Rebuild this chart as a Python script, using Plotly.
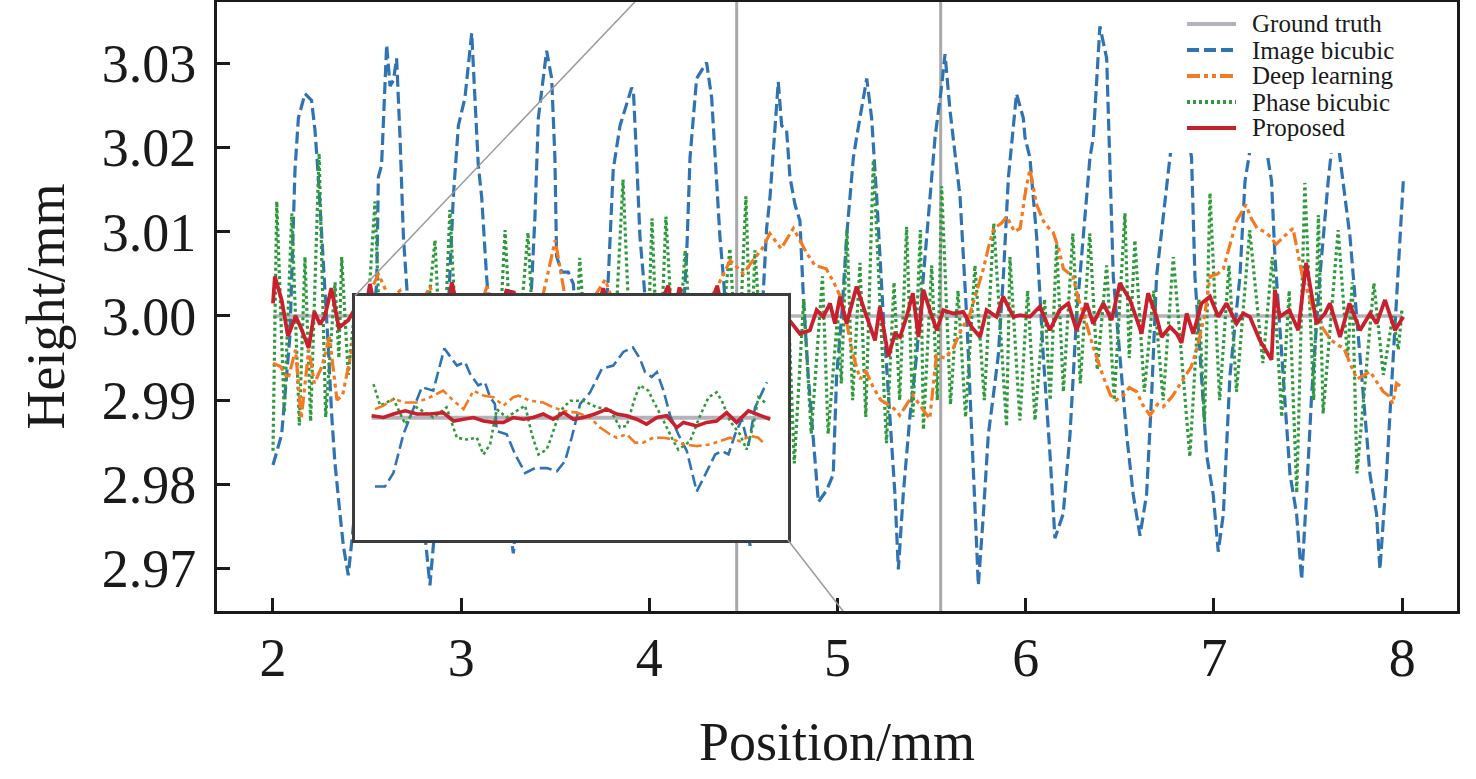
"""Height profile comparison with zoomed inset (plotly recreation)."""

import plotly.graph_objects as go

# ---- main panel data (Position/mm, Height/mm) ----
truth_x = [2.0, 8.0]
truth_y = [3.0, 3.0]

blue_x = [
    2.000, 2.046, 2.090, 2.108, 2.117, 2.135, 2.170, 2.205, 2.223, 2.241, 2.267, 2.294, 2.312, 2.329,
    2.356, 2.374, 2.400, 2.450, 2.500, 2.551, 2.560, 2.577, 2.604, 2.622, 2.640, 2.657, 2.675, 2.693,
    2.710, 2.750, 2.790, 2.834, 2.880, 2.920, 2.958, 2.985, 3.020, 3.056, 3.073, 3.091, 3.109, 3.135,
    3.180, 3.230, 3.277, 3.320, 3.360, 3.392, 3.410, 3.454, 3.481, 3.498, 3.507, 3.534, 3.569, 3.596,
    3.640, 3.700, 3.740, 3.782, 3.808, 3.844, 3.906, 3.915, 3.932, 3.950, 3.968, 4.020, 4.080, 4.140,
    4.198, 4.216, 4.251, 4.304, 4.331, 4.357, 4.375, 4.393, 4.440, 4.500, 4.535, 4.580, 4.623, 4.641,
    4.676, 4.685, 4.703, 4.729, 4.747, 4.774, 4.800, 4.818, 4.844, 4.871, 4.898, 4.942, 4.977, 4.995,
    5.022, 5.048, 5.084, 5.101, 5.155, 5.181, 5.208, 5.243, 5.279, 5.305, 5.323, 5.349, 5.385, 5.420,
    5.456, 5.491, 5.518, 5.553, 5.571, 5.597, 5.624, 5.651, 5.686, 5.713, 5.730, 5.748, 5.775, 5.801,
    5.828, 5.854, 5.881, 5.908, 5.951, 5.987, 5.996, 6.022, 6.058, 6.093, 6.129, 6.155, 6.199, 6.235,
    6.270, 6.314, 6.341, 6.359, 6.394, 6.430, 6.447, 6.465, 6.500, 6.536, 6.571, 6.607, 6.642, 6.669,
    6.695, 6.731, 6.766, 6.820, 6.881, 6.899, 6.926, 6.961, 6.996, 7.023, 7.050, 7.085, 7.138, 7.165,
    7.236, 7.306, 7.324, 7.368, 7.404, 7.439, 7.466, 7.492, 7.519, 7.563, 7.607, 7.643, 7.687, 7.723,
    7.758, 7.793, 7.829, 7.864, 7.882, 7.917, 7.953, 7.971, 8.006,
]
blue_y = [
    2.9823, 2.9859, 2.9976, 3.0094, 3.0174, 3.0235, 3.0264, 3.0256, 3.0221, 3.0165, 3.0071, 2.9962, 2.9882, 2.9826,
    2.9765, 2.9727, 2.9692, 2.9800, 2.9920, 3.0038, 3.0165, 3.0179, 3.0322, 3.0273, 3.0280, 3.0306, 3.0212, 3.0094,
    3.0038, 2.9900, 2.9780, 2.9680, 2.9800, 2.9950, 3.0141, 3.0226, 3.0259, 3.0336, 3.0259, 3.0179, 3.0141, 3.0047,
    2.9920, 2.9800, 2.9718, 2.9820, 2.9970, 3.0118, 3.0235, 3.0315, 3.0282, 3.0188, 3.0071, 3.0052, 3.0052, 3.0038,
    2.9900, 2.9760, 2.9900, 3.0047, 3.0174, 3.0226, 3.0271, 3.0268, 3.0188, 3.0094, 3.0047, 2.9900, 2.9770, 2.9850,
    3.0071, 3.0188, 3.0282, 3.0301, 3.0259, 3.0165, 3.0094, 3.0047, 2.9900, 2.9780, 2.9727, 2.9920, 3.0104, 3.0141,
    3.0259, 3.0278, 3.0226, 3.0221, 3.0165, 3.0132, 3.0113, 3.0024, 2.9929, 2.9859, 2.9779, 2.9793, 2.9812, 2.9929,
    3.0000, 3.0094, 3.0188, 3.0212, 3.0282, 3.0235, 3.0141, 3.0000, 2.9882, 2.9788, 2.9699, 2.9788, 2.9882, 2.9953,
    3.0047, 3.0141, 3.0212, 3.0273, 3.0311, 3.0245, 3.0193, 3.0141, 3.0000, 2.9859, 2.9765, 2.9680, 2.9765, 2.9859,
    2.9906, 2.9953, 3.0047, 3.0165, 3.0264, 3.0235, 3.0212, 3.0188, 3.0094, 2.9953, 2.9835, 2.9736, 2.9765, 2.9859,
    3.0000, 3.0118, 3.0188, 3.0212, 3.0344, 3.0306, 3.0188, 3.0047, 2.9953, 2.9859, 2.9788, 2.9739, 2.9788, 2.9906,
    3.0047, 3.0118, 3.0188, 3.0282, 3.0188, 3.0047, 2.9953, 2.9835, 2.9788, 2.9720, 2.9765, 2.9929, 3.0047, 3.0160,
    3.0259, 3.0160, 3.0071, 2.9929, 2.9812, 2.9765, 2.9687, 2.9788, 2.9906, 3.0047, 3.0160, 3.0235, 3.0160, 3.0094,
    3.0000, 2.9906, 2.9812, 2.9765, 2.9699, 2.9812, 2.9953, 3.0024, 3.0160,
]

orange_x = [
    2.00, 2.04, 2.08, 2.12, 2.15, 2.19, 2.22, 2.26, 2.30, 2.34, 2.37, 2.41, 2.45, 2.50, 2.56, 2.62,
    2.675, 2.73, 2.78, 2.834, 2.89, 2.95, 3.00, 3.05, 3.10, 3.137, 3.20, 3.28, 3.35, 3.42, 3.50, 3.55,
    3.62, 3.70, 3.765, 3.82, 3.90, 3.98, 4.05, 4.12, 4.20, 4.28, 4.35, 4.43, 4.50, 4.55, 4.60, 4.64,
    4.70, 4.765, 4.80, 4.835, 4.88, 4.94, 4.98, 5.013, 5.05, 5.083, 5.12, 5.15, 5.19, 5.23, 5.26, 5.30,
    5.33, 5.37, 5.40, 5.45, 5.49, 5.525, 5.57, 5.615, 5.66, 5.70, 5.74, 5.775, 5.80, 5.83, 5.87, 5.90,
    5.94, 5.97, 6.00, 6.022, 6.058, 6.093, 6.12, 6.146, 6.175, 6.20, 6.25, 6.28, 6.31, 6.36, 6.41, 6.45,
    6.48, 6.52, 6.55, 6.59, 6.62, 6.66, 6.70, 6.73, 6.78, 6.84, 6.88, 6.91, 6.95, 6.98, 7.02, 7.05,
    7.09, 7.12, 7.17, 7.20, 7.23, 7.27, 7.30, 7.33, 7.37, 7.42, 7.45, 7.47, 7.51, 7.54, 7.58, 7.62,
    7.66, 7.69, 7.73, 7.76, 7.80, 7.83, 7.87, 7.90, 7.93, 7.95, 7.97, 8.00,
]
orange_y = [
    2.9944, 2.9940, 2.9925, 2.9960, 2.9878, 2.9960, 2.9920, 2.9940, 2.9975, 2.9900, 2.9906, 2.9950, 3.0000, 3.0020, 3.0050, 3.0020,
    3.0030, 3.0000, 3.0010, 3.0035, 3.0000, 3.0020, 3.0000, 2.9990, 3.0010, 3.0035, 3.0000, 3.0010, 3.0000, 3.0010, 3.0090, 3.0025,
    3.0000, 3.0020, 3.0043, 3.0010, 3.0000, 3.0010, 3.0000, 3.0015, 3.0005, 3.0010, 3.0030, 3.0066, 3.0050, 3.0066, 3.0080, 3.0098,
    3.0080, 3.0104, 3.0090, 3.0075, 3.0060, 3.0056, 3.0040, 3.0024, 2.9990, 2.9953, 2.9925, 2.9935, 2.9915, 2.9900, 2.9896, 2.9890,
    2.9882, 2.9895, 2.9906, 2.9890, 2.9878, 2.9953, 2.9950, 2.9962, 2.9985, 3.0000, 3.0030, 3.0056, 3.0080, 3.0104, 3.0110, 3.0118,
    3.0100, 3.0104, 3.0150, 3.0174, 3.0132, 3.0113, 3.0105, 3.0099, 3.0080, 3.0056, 3.0047, 3.0020, 3.0000, 2.9962, 2.9929, 2.9906,
    2.9900, 2.9906, 2.9915, 2.9910, 2.9895, 2.9882, 2.9895, 2.9892, 2.9905, 2.9925, 2.9940, 2.9962, 3.0000, 3.0047, 3.0050, 3.0056,
    3.0090, 3.0113, 3.0132, 3.0115, 3.0104, 3.0100, 3.0094, 3.0085, 3.0094, 3.0104, 3.0070, 3.0047, 3.0020, 3.0000, 2.9985, 2.9972,
    2.9965, 2.9962, 2.9940, 2.9925, 2.9930, 2.9934, 2.9920, 2.9910, 2.9905, 2.9896, 2.9920, 2.9915,
]

green_x = [
    2.000, 2.020, 2.060, 2.100, 2.140, 2.170, 2.200, 2.245, 2.280, 2.330, 2.350, 2.365, 2.400, 2.440,
    2.480, 2.542, 2.580, 2.630, 2.680, 2.730, 2.780, 2.861, 2.900, 2.940, 2.990, 3.040, 3.090, 3.140,
    3.190, 3.233, 3.280, 3.355, 3.400, 3.450, 3.500, 3.560, 3.600, 3.630, 3.680, 3.740, 3.800, 3.860,
    3.910, 3.960, 3.990, 4.014, 4.050, 4.088, 4.140, 4.190, 4.240, 4.300, 4.350, 4.428, 4.470, 4.513,
    4.540, 4.561, 4.610, 4.660, 4.700, 4.740, 4.770, 4.820, 4.860, 4.920, 4.950, 5.000, 5.020, 5.050,
    5.080, 5.119, 5.150, 5.190, 5.260, 5.300, 5.330, 5.367, 5.400, 5.440, 5.456, 5.500, 5.530, 5.553,
    5.600, 5.640, 5.680, 5.730, 5.780, 5.830, 5.898, 5.916, 5.969, 6.010, 6.049, 6.100, 6.130, 6.164,
    6.200, 6.250, 6.290, 6.340, 6.380, 6.430, 6.470, 6.527, 6.550, 6.580, 6.630, 6.680, 6.730, 6.784,
    6.872, 6.920, 6.950, 6.979, 7.030, 7.080, 7.120, 7.190, 7.260, 7.310, 7.360, 7.400, 7.440, 7.483,
    7.530, 7.555, 7.580, 7.660, 7.710, 7.735, 7.760, 7.850, 7.900, 7.950, 7.980, 8.000,
]
green_y = [
    2.9840, 3.0136, 2.9885, 3.0122, 2.9870, 3.0070, 2.9875, 3.0193, 2.9880, 3.0040, 2.9950, 3.0070, 2.9930, 3.0020,
    2.9920, 3.0136, 2.9900, 3.0010, 2.9900, 3.0015, 2.9910, 3.0090, 2.9900, 3.0126, 2.9900, 3.0015, 2.9900, 3.0010,
    2.9910, 3.0102, 2.9900, 3.0099, 2.9900, 3.0015, 2.9900, 3.0015, 2.9910, 3.0069, 2.9900, 3.0010, 2.9900, 3.0162,
    2.9900, 3.0010, 2.9950, 3.0116, 2.9900, 3.0118, 2.9910, 3.0078, 2.9900, 3.0015, 2.9900, 3.0080, 2.9920, 3.0142,
    2.9950, 3.0078, 2.9910, 3.0020, 2.9900, 3.0000, 2.9825, 3.0020, 2.9860, 3.0047, 2.9860, 3.0000, 2.9920, 3.0102,
    2.9900, 3.0063, 2.9880, 3.0185, 2.9849, 3.0040, 2.9900, 3.0106, 2.9880, 3.0102, 2.9865, 3.0060, 2.9900, 3.0154,
    2.9895, 3.0030, 2.9880, 3.0060, 2.9900, 3.0110, 2.9869, 3.0070, 2.9876, 3.0030, 2.9876, 3.0020, 2.9900, 3.0086,
    2.9910, 3.0098, 2.9920, 3.0098, 2.9936, 3.0060, 2.9900, 3.0122, 2.9950, 3.0090, 2.9910, 3.0030, 2.9900, 3.0070,
    2.9833, 3.0020, 2.9873, 3.0146, 2.9900, 3.0060, 2.9910, 3.0102, 2.9944, 3.0070, 2.9880, 3.0030, 2.9790, 3.0158,
    2.9900, 3.0120, 2.9884, 3.0102, 2.9950, 3.0040, 2.9813, 3.0039, 2.9930, 3.0000, 2.9960, 3.0010,
]

red_x = [
    2.000, 2.010, 2.046, 2.080, 2.120, 2.150, 2.190, 2.220, 2.250, 2.276, 2.310, 2.350, 2.400, 2.440,
    2.480, 2.515, 2.550, 2.600, 2.640, 2.680, 2.720, 2.760, 2.800, 2.840, 2.880, 2.920, 2.950, 2.990,
    3.030, 3.070, 3.110, 3.150, 3.190, 3.240, 3.280, 3.320, 3.360, 3.420, 3.460, 3.500, 3.540, 3.580,
    3.620, 3.660, 3.700, 3.755, 3.800, 3.840, 3.880, 3.920, 3.960, 4.000, 4.040, 4.100, 4.130, 4.160,
    4.200, 4.240, 4.280, 4.320, 4.360, 4.400, 4.440, 4.480, 4.520, 4.550, 4.590, 4.630, 4.670, 4.700,
    4.730, 4.800, 4.853, 4.889, 4.924, 4.960, 4.986, 5.013, 5.048, 5.101, 5.155, 5.199, 5.225, 5.270,
    5.305, 5.332, 5.367, 5.400, 5.430, 5.456, 5.490, 5.527, 5.562, 5.615, 5.668, 5.712, 5.757, 5.792,
    5.845, 5.880, 5.934, 5.970, 6.022, 6.075, 6.128, 6.180, 6.226, 6.270, 6.323, 6.358, 6.412, 6.456,
    6.500, 6.554, 6.616, 6.650, 6.695, 6.722, 6.766, 6.802, 6.828, 6.855, 6.890, 6.934, 6.979, 7.023,
    7.067, 7.120, 7.156, 7.191, 7.244, 7.306, 7.324, 7.350, 7.400, 7.448, 7.490, 7.545, 7.590, 7.616,
    7.670, 7.720, 7.776, 7.830, 7.864, 7.909, 7.962, 8.006,
]
red_y = [
    3.0015, 3.0047, 3.0019, 2.9976, 3.0000, 2.9985, 2.9962, 3.0005, 2.9990, 3.0000, 3.0033, 2.9986, 2.9995, 3.0010,
    2.9990, 3.0038, 3.0000, 2.9985, 3.0010, 2.9995, 3.0005, 2.9990, 3.0010, 2.9990, 3.0005, 2.9995, 3.0040, 3.0000,
    2.9990, 3.0010, 2.9995, 3.0005, 2.9990, 3.0030, 3.0028, 2.9995, 3.0005, 3.0022, 2.9990, 3.0005, 2.9995, 3.0010,
    2.9990, 3.0005, 2.9990, 3.0033, 3.0000, 2.9990, 3.0005, 2.9995, 3.0025, 2.9995, 3.0005, 3.0036, 3.0000, 3.0034,
    2.9995, 3.0005, 2.9990, 3.0005, 3.0036, 2.9995, 3.0005, 2.9990, 3.0005, 2.9995, 3.0025, 2.9995, 3.0005, 2.9990,
    2.9999, 2.9979, 2.9983, 3.0007, 2.9999, 3.0015, 2.9991, 3.0023, 2.9991, 3.0035, 2.9999, 2.9971, 3.0011, 2.9952,
    2.9979, 2.9975, 2.9999, 3.0027, 2.9975, 3.0031, 3.0007, 2.9983, 3.0007, 3.0003, 3.0005, 2.9987, 2.9975, 3.0007,
    2.9999, 3.0023, 2.9999, 3.0001, 2.9999, 3.0011, 2.9983, 3.0007, 3.0015, 2.9983, 3.0015, 2.9991, 3.0015, 2.9995,
    3.0039, 3.0019, 2.9979, 3.0027, 2.9999, 2.9975, 2.9987, 2.9979, 2.9968, 3.0003, 2.9979, 3.0015, 3.0023, 2.9999,
    3.0015, 2.9991, 3.0003, 2.9999, 2.9971, 2.9948, 3.0031, 2.9999, 3.0007, 2.9983, 3.0063, 2.9991, 3.0003, 3.0015,
    2.9975, 3.0015, 2.9983, 3.0003, 2.9991, 3.0019, 2.9983, 2.9999,
]

# ---- inset data (zoomed window) ----
inset_truth_x = [4.461, 5.541]
inset_truth_y = [3.0, 3.0]

inset_blue_x = [
    4.470, 4.497, 4.520, 4.547, 4.597, 4.628, 4.658, 4.692, 4.714, 4.728, 4.750, 4.768, 4.782, 4.795,
    4.800, 4.827, 4.850, 4.877, 4.904, 4.935, 4.963, 4.985, 5.003, 5.026, 5.053, 5.085, 5.116, 5.143,
    5.169, 5.188, 5.202, 5.220, 5.234, 5.252, 5.270, 5.292, 5.315, 5.342, 5.365, 5.392, 5.410, 5.428,
    5.446, 5.464, 5.482, 5.500, 5.532,
]
inset_blue_y = [
    2.9803, 2.9803, 2.9842, 2.9953, 3.0088, 3.0078, 3.0199, 3.0150, 3.0160, 3.0126, 3.0093, 3.0102, 3.0059, 3.0040,
    2.9962, 2.9953, 2.9895, 2.9842, 2.9856, 2.9856, 2.9847, 2.9876, 2.9943, 3.0040, 3.0073, 3.0141, 3.0150, 3.0189,
    3.0202, 3.0170, 3.0131, 3.0117, 3.0131, 3.0078, 3.0006, 2.9953, 2.9905, 2.9789, 2.9837, 2.9895, 2.9905, 2.9895,
    2.9953, 2.9996, 2.9920, 3.0030, 3.0102,
]

inset_orange_x = [
    4.470, 4.493, 4.520, 4.552, 4.583, 4.619, 4.655, 4.683, 4.710, 4.737, 4.764, 4.791, 4.818, 4.845,
    4.859, 4.890, 4.926, 4.953, 4.981, 5.017, 5.053, 5.080, 5.107, 5.125, 5.152, 5.175, 5.197, 5.224,
    5.252, 5.279, 5.306, 5.342, 5.378, 5.405, 5.432, 5.459, 5.486, 5.509, 5.527,
]
inset_orange_y = [
    3.0025, 3.0035, 3.0054, 3.0044, 3.0044, 3.0059, 3.0078, 3.0049, 3.0025, 3.0078, 3.0064, 3.0059, 3.0035, 3.0059,
    3.0064, 3.0049, 3.0044, 3.0030, 3.0020, 3.0015, 3.0001, 2.9972, 2.9953, 2.9943, 2.9953, 2.9929, 2.9929, 2.9943,
    2.9943, 2.9938, 2.9924, 2.9919, 2.9924, 2.9933, 2.9943, 2.9933, 2.9948, 2.9943, 2.9924,
]

inset_green_x = [
    4.466, 4.484, 4.520, 4.552, 4.583, 4.628, 4.664, 4.692, 4.719, 4.746, 4.764, 4.782, 4.800, 4.827,
    4.854, 4.877, 4.895, 4.904, 4.913, 4.935, 4.944, 4.972, 4.999, 5.035, 5.071, 5.107, 5.134, 5.152,
    5.175, 5.188, 5.211, 5.224, 5.243, 5.279, 5.292, 5.324, 5.351, 5.374, 5.396, 5.410, 5.432, 5.459,
    5.477, 5.496, 5.509, 5.532,
]
inset_green_y = [
    3.0097, 3.0035, 3.0054, 2.9982, 3.0030, 3.0001, 3.0030, 2.9943, 2.9938, 2.9943, 2.9895, 2.9924, 3.0025, 3.0001,
    3.0020, 3.0035, 2.9953, 2.9924, 2.9895, 2.9909, 2.9933, 3.0020, 3.0049, 3.0049, 3.0030, 3.0025, 2.9972, 2.9977,
    3.0059, 3.0093, 3.0078, 3.0049, 3.0011, 2.9933, 2.9909, 2.9933, 3.0006, 3.0059, 3.0073, 3.0049, 2.9991, 2.9953,
    2.9909, 2.9982, 3.0059, 3.0040,
]

inset_red_x = [
    4.461, 4.493, 4.520, 4.552, 4.583, 4.619, 4.655, 4.683, 4.710, 4.737, 4.764, 4.791, 4.818, 4.845,
    4.872, 4.899, 4.926, 4.953, 4.981, 5.008, 5.035, 5.066, 5.098, 5.125, 5.152, 5.179, 5.206, 5.234,
    5.261, 5.288, 5.306, 5.342, 5.369, 5.396, 5.423, 5.450, 5.482, 5.514, 5.541,
]
inset_red_y = [
    3.0006, 3.0001, 3.0011, 3.0020, 3.0011, 3.0011, 3.0015, 2.9991, 2.9996, 3.0001, 2.9991, 2.9987, 2.9987, 3.0001,
    2.9996, 3.0001, 3.0011, 2.9996, 3.0015, 2.9996, 3.0001, 3.0011, 3.0025, 3.0011, 3.0006, 2.9996, 2.9982, 3.0001,
    3.0006, 2.9972, 2.9987, 2.9977, 2.9987, 2.9991, 3.0015, 2.9987, 3.0020, 3.0006, 2.9996,
]

x_ticks = [2, 3, 4, 5, 6, 7, 8]
y_ticks = [2.97, 2.98, 2.99, 3.00, 3.01, 3.02, 3.03]
y_tick_text = ["2.97", "2.98", "2.99", "3.00", "3.01", "3.02", "3.03"]

# ---- layout constants ----
W, H = 1476, 779
M_L, M_R, M_T, M_B = 217, 19, 2, 168
X_RANGE = [1.7025, 8.2915]
Y_RANGE = [2.96496, 3.03729]
ZOOM_X = [4.464, 5.548]          # highlighted window on the main axes
ZOOM_Y = [2.95, 3.05]
INSET_BOX_X = [2.436, 4.736]     # where the inset sits, in main-axis units
INSET_BOX_Y = [2.9734, 3.0024]
INSET_X_RANGE = [4.416, 5.589]
INSET_Y_RANGE = [2.965, 3.035]

SERIF = "Liberation Serif, Times New Roman, serif"
INK = "#1a1a1a"
C_TRUTH = "#b3b3bb"
C_BLUE = "#2f73b3"
C_ORANGE = "#f47a22"
C_GREEN = "#2f9a3c"
C_RED = "#c8202c"

STYLES = {
    "Ground truth": dict(color=C_TRUTH, width=3.5, dash="solid"),
    "Image bicubic": dict(color=C_BLUE, width=3.2, dash="12px,5px"),
    "Deep learning": dict(color=C_ORANGE, width=3.2, dash="13px,4px,4px,4px,4px,4px"),
    "Phase bicubic": dict(color=C_GREEN, width=3.2, dash="3px,3px"),
    "Proposed": dict(color=C_RED, width=3.8, dash="solid"),
}


def to_paper_x(v):
    return (v - X_RANGE[0]) / (X_RANGE[1] - X_RANGE[0])


def to_paper_y(v):
    return (v - Y_RANGE[0]) / (Y_RANGE[1] - Y_RANGE[0])


def px_x(p):
    return (p - M_L) / (W - M_L - M_R)


def px_y(p):
    return (H - M_B - p) / (H - M_T - M_B)


fig = go.Figure()

main_series = [
    ("Ground truth", truth_x, truth_y),
    ("Image bicubic", blue_x, blue_y),
    ("Phase bicubic", green_x, green_y),
    ("Deep learning", orange_x, orange_y),
    ("Proposed", red_x, red_y),
]
for name, xs, ys in main_series:
    fig.add_trace(go.Scatter(x=xs, y=ys, mode="lines", name=name, line=STYLES[name],
                             showlegend=False, xaxis="x", yaxis="y"))

inset_series = [
    ("Ground truth", inset_truth_x, inset_truth_y, 4),
    ("Image bicubic", inset_blue_x, inset_blue_y, 2.6),
    ("Phase bicubic", inset_green_x, inset_green_y, 2.6),
    ("Deep learning", inset_orange_x, inset_orange_y, 2.6),
    ("Proposed", inset_red_x, inset_red_y, 3.6),
]
for name, xs, ys, w in inset_series:
    style = dict(STYLES[name], width=w)
    fig.add_trace(go.Scatter(x=xs, y=ys, mode="lines", name=name, line=style,
                             showlegend=False, xaxis="x2", yaxis="y2"))

shapes = [
    # highlighted window (top/bottom edges fall outside the axes and are clipped)
    dict(type="rect", xref="x", yref="y", x0=ZOOM_X[0], x1=ZOOM_X[1], y0=ZOOM_Y[0], y1=ZOOM_Y[1],
         line=dict(color="#a9a9a9", width=3), layer="below"),
    # connectors from inset corners to window corners
    dict(type="line", xref="x", yref="y", x0=INSET_BOX_X[0], y0=INSET_BOX_Y[1], x1=ZOOM_X[0], y1=ZOOM_Y[1],
         line=dict(color="#9a9a9a", width=1.5), layer="above"),
    dict(type="line", xref="x", yref="y", x0=INSET_BOX_X[1], y0=INSET_BOX_Y[0], x1=ZOOM_X[1], y1=ZOOM_Y[0],
         line=dict(color="#9a9a9a", width=1.5), layer="above"),
    # white inset background, drawn under the inset traces but over the main ones
    dict(type="rect", xref="x2", yref="y2", x0=INSET_X_RANGE[0], x1=INSET_X_RANGE[1],
         y0=INSET_Y_RANGE[0], y1=INSET_Y_RANGE[1], fillcolor="white", line=dict(width=0), layer="below"),
    # legend background
    dict(type="rect", xref="paper", yref="paper", x0=px_x(1163), x1=px_x(1455), y0=px_y(153), y1=px_y(3),
         fillcolor="white", line=dict(width=0), layer="above"),
]

annotations = []
legend_rows = [24, 50, 76, 102, 128]
for (name, style), row in zip(STYLES.items(), legend_rows):
    shapes.append(dict(type="line", xref="paper", yref="paper", x0=px_x(1187), x1=px_x(1236),
                       y0=px_y(row), y1=px_y(row), line=dict(style, width=4), layer="above"))
    annotations.append(dict(text=name, xref="paper", yref="paper", x=px_x(1250), y=px_y(row),
                            xanchor="left", yanchor="middle", showarrow=False,
                            font=dict(family=SERIF, size=25, color=INK)))

axis_common = dict(showgrid=False, zeroline=False, showline=True, mirror=True, linewidth=3, linecolor=INK,
                   ticks="inside", ticklen=13, tickwidth=3, tickcolor=INK, automargin=False,
                   tickfont=dict(family=SERIF, size=54, color=INK))

fig.update_layout(
    width=W, height=H,
    margin=dict(l=M_L, r=M_R, t=M_T, b=M_B),
    paper_bgcolor="white", plot_bgcolor="white",
    showlegend=False,
    xaxis=dict(axis_common, range=X_RANGE, tickvals=x_ticks, ticklabelstandoff=-3,
               title=dict(text="Position/mm", font=dict(family=SERIF, size=54, color=INK), standoff=36)),
    yaxis=dict(axis_common, range=Y_RANGE, tickvals=y_ticks, ticktext=y_tick_text, ticklabelstandoff=7,
               title=dict(text="Height/mm", font=dict(family=SERIF, size=54, color=INK), standoff=20)),
    xaxis2=dict(domain=[to_paper_x(INSET_BOX_X[0]), to_paper_x(INSET_BOX_X[1])], range=INSET_X_RANGE,
                anchor="y2", showgrid=False, zeroline=False, showticklabels=False, ticks="", automargin=False,
                showline=True, mirror=True, linewidth=3, linecolor="#3c3c3c"),
    yaxis2=dict(domain=[to_paper_y(INSET_BOX_Y[0]), to_paper_y(INSET_BOX_Y[1])], range=INSET_Y_RANGE,
                anchor="x2", showgrid=False, zeroline=False, showticklabels=False, ticks="", automargin=False,
                showline=True, mirror=True, linewidth=3, linecolor="#3c3c3c"),
    shapes=shapes,
    annotations=annotations,
)

# the page's default body margin would push the figure 8px right and down
fig.write_html("out.html", config={"displayModeBar": False},
               post_script="document.body.style.margin = '0';")
